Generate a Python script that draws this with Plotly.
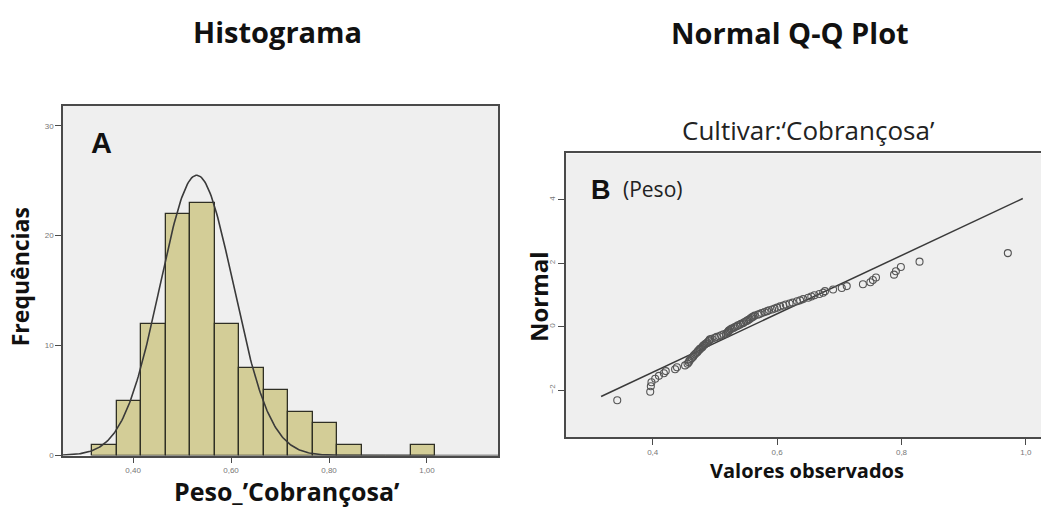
import numpy as np
import plotly.graph_objects as go

# ---------------- data ----------------
bin_left = [0.317, 0.367, 0.417, 0.467, 0.517, 0.567, 0.617, 0.667, 0.717, 0.767, 0.817, 0.867, 0.917, 0.967]
bin_width = 0.05
bin_counts = [1, 5, 12, 22, 23, 12, 8, 6, 4, 3, 1, 0, 0, 1]

curve_mean = 0.530
curve_sd = 0.075
curve_peak = 25.5

qq_observed = [
    0.343,
    0.396, 0.397, 0.398, 0.404, 0.410,
    0.418, 0.421, 0.436, 0.439, 0.452, 0.456, 0.458, 0.459, 0.461, 0.463, 0.465, 0.466,
    0.468, 0.470, 0.472, 0.473, 0.475, 0.476, 0.478, 0.480, 0.481, 0.483, 0.485, 0.487,
    0.488, 0.490, 0.491, 0.492, 0.495, 0.500, 0.503, 0.507, 0.510, 0.514,
    0.518, 0.520, 0.521, 0.522, 0.523, 0.525, 0.527, 0.530, 0.532, 0.535, 0.537, 0.540,
    0.542, 0.545, 0.547, 0.550, 0.552, 0.554, 0.556, 0.558, 0.560, 0.562, 0.564,
    0.569, 0.572, 0.575, 0.580, 0.584, 0.587, 0.592, 0.596, 0.600, 0.605, 0.610, 0.614,
    0.620, 0.625, 0.632, 0.637, 0.642, 0.650, 0.655, 0.660,
    0.668, 0.674, 0.677, 0.690, 0.704, 0.712,
    0.738, 0.750, 0.754, 0.759,
    0.788, 0.791, 0.799,
    0.829,
    0.971,
]
qq_expected = [
    -2.32, -2.05, -1.88, -1.75, -1.64, -1.55, -1.47, -1.40, -1.34, -1.28, -1.22, -1.17,
    -1.12, -1.07, -1.03, -0.99, -0.95, -0.91, -0.87, -0.83, -0.80, -0.76, -0.73, -0.70,
    -0.67, -0.64, -0.60, -0.57, -0.54, -0.52, -0.49, -0.46, -0.43, -0.40, -0.38, -0.35,
    -0.32, -0.30, -0.27, -0.24, -0.22, -0.19, -0.17, -0.14, -0.11, -0.09, -0.06, -0.04,
    -0.01,
    0.01, 0.04, 0.06, 0.09, 0.11, 0.14, 0.17, 0.19, 0.22, 0.24, 0.27, 0.30, 0.32, 0.35,
    0.38, 0.40, 0.43, 0.46, 0.49, 0.52, 0.54, 0.57, 0.60, 0.64, 0.67, 0.70, 0.73, 0.76,
    0.80, 0.83, 0.87, 0.91, 0.95, 0.99, 1.03, 1.07, 1.12, 1.17, 1.22, 1.28, 1.34, 1.40,
    1.47, 1.55, 1.64, 1.75, 1.88, 2.05, 2.32,
]
ref_line_x = [0.317, 0.995]
ref_line_y = [-2.20, 4.04]

hist_x_ticks = [0.40, 0.60, 0.80, 1.00]
hist_y_ticks = [0, 10, 20, 30]
qq_x_ticks = [0.4, 0.6, 0.8, 1.0]
qq_y_ticks = [-2, 0, 2, 4]

# ---------------- figure ----------------
W, H = 1041, 513
BAR = "#d3cd97"
BG = "#efefef"
AX = "#4a4a4a"
TICKF = dict(family="Arial", size=8, color="#777777")

fig = go.Figure()

bin_centers = [b + bin_width / 2 for b in bin_left]
fig.add_trace(go.Bar(
    x=bin_centers, y=bin_counts, width=[bin_width] * len(bin_left),
    marker=dict(color=BAR, line=dict(color="#2f2f24", width=1.3)),
    xaxis="x", yaxis="y", showlegend=False, hoverinfo="skip",
))

cx = np.linspace(0.257, 1.145, 400)
cy = curve_peak * np.exp(-0.5 * ((cx - curve_mean) / curve_sd) ** 2)
fig.add_trace(go.Scatter(
    x=cx, y=cy, mode="lines", line=dict(color="#3a3a3a", width=1.6),
    xaxis="x", yaxis="y", showlegend=False, hoverinfo="skip",
))

fig.add_trace(go.Scatter(
    x=ref_line_x, y=ref_line_y, mode="lines", line=dict(color="#3a3a3a", width=1.5),
    xaxis="x2", yaxis="y2", showlegend=False, hoverinfo="skip",
))
fig.add_trace(go.Scatter(
    x=qq_observed, y=qq_expected, mode="markers",
    marker=dict(symbol="circle-open", size=7, color="#555555", line=dict(width=1.1)),
    xaxis="x2", yaxis="y2", showlegend=False, hoverinfo="skip",
))

def px2fx(p):
    return p / W

def py2fy(p):
    return 1 - p / H

axis_common = dict(showgrid=False, zeroline=False, showline=True, linecolor=AX, linewidth=1.5,
                   ticks="outside", ticklen=6, tickcolor=AX, tickwidth=1, tickfont=TICKF)

fig.update_layout(
    width=W, height=H,
    margin=dict(l=0, r=0, t=0, b=0),
    paper_bgcolor="white", plot_bgcolor=BG,
    separators=",.",
    bargap=0,
    xaxis=dict(domain=[px2fx(63), px2fx(498)], range=[0.257, 1.145], tickvals=hist_x_ticks,
               tickformat=".2f", mirror=True, anchor="y", **axis_common),
    yaxis=dict(domain=[py2fy(460), py2fy(107)], range=[0, 31.8], tickvals=hist_y_ticks,
               mirror=True, anchor="x", **axis_common),
    xaxis2=dict(domain=[px2fx(566), 1.0], range=[0.2606, 1.0243], tickvals=qq_x_ticks,
                tickformat=".1f", mirror=True, anchor="y2", **axis_common),
    yaxis2=dict(domain=[py2fy(441.7), py2fy(155)], range=[-3.49, 5.46], tickvals=qq_y_ticks,
                tickangle=-90, mirror=False, anchor="x2", **axis_common),
)

def ann(text, x, y, size, family="Open Sans", bold=True, color="#111111", angle=0, xanchor="center"):
    fig.add_annotation(
        text=f"<b>{text}</b>" if bold else text,
        x=px2fx(x), y=py2fy(y), xref="paper", yref="paper",
        xanchor=xanchor, yanchor="middle", showarrow=False, textangle=angle,
        font=dict(family=family, size=size, color=color),
    )

ann("Histograma", 277, 32, 29)
ann("Normal Q-Q Plot", 790, 33, 29)
ann("Cultivar:‘Cobrançosa’", 808, 131, 26, bold=False, color="#222222")
ann("A", 101, 144, 29, family="Liberation Sans")
ann("B", 601, 192, 27, family="Liberation Sans")
ann("(Peso)", 621, 191, 21, bold=False, color="#222222", xanchor="left")
ann("Frequências", 20, 280, 23, angle=-90)
ann("Normal", 538, 300, 24, angle=-90)
ann("Peso_’Cobrançosa’", 287, 496, 25)
ann("Valores observados", 807, 475, 20)

fig.write_html("out.html")
